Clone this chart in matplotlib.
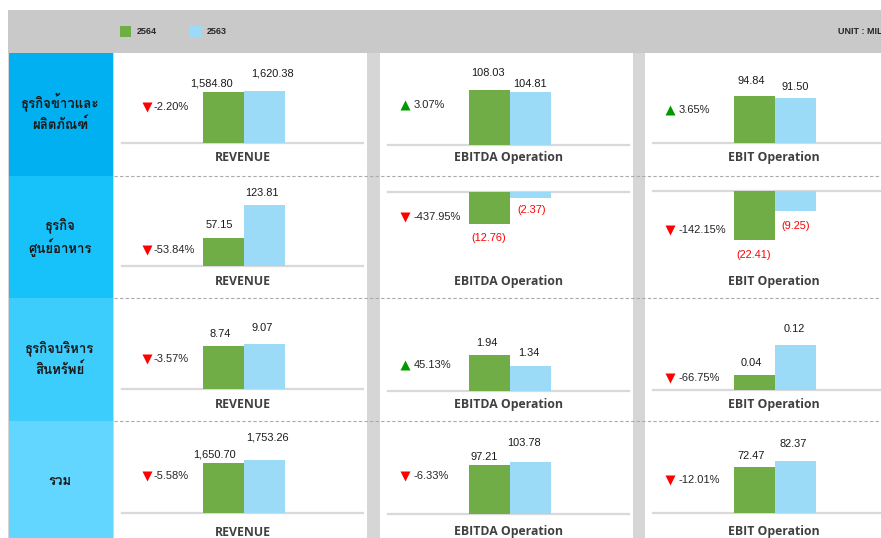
import matplotlib
matplotlib.use("Agg")
import matplotlib.pyplot as plt
import matplotlib.font_manager as fm
from matplotlib.ft2font import FT2Font
from matplotlib.patches import Rectangle

# ---------------- data ----------------
segments = ["ธุรกิจข้าวและ\nผลิตภัณฑ์", "ธุรกิจ\nศูนย์อาหาร", "ธุรกิจบริหาร\nสินทรัพย์", "รวม"]
metrics = ["REVENUE", "EBITDA Operation", "EBIT Operation"]
series_labels = ["2564", "2563"]
values_2564 = [[1584.80, 108.03, 94.84],
               [57.15, -12.76, -22.41],
               [8.74, 1.94, 0.04],
               [1650.70, 97.21, 72.47]]
values_2563 = [[1620.38, 104.81, 91.50],
               [123.81, -2.37, -9.25],
               [9.07, 1.34, 0.12],
               [1753.26, 103.78, 82.37]]
pct_change = [[-2.20, 3.07, 3.65],
              [-53.84, -437.95, -142.15],
              [-3.57, 45.13, -66.75],
              [-5.58, -6.33, -12.01]]
unit_label = "UNIT : MILLION BAHT"

# ---------------- layout (pixels) ----------------
W, H = 881, 538
base_y = [[143.3, 145.0, 143.3],
          [265.7, 192.3, 190.7],
          [389.3, 391.0, 389.7],
          [512.7, 514.0, 512.7]]
y_span = [[2150, 138, 141],
          [142, 28, 32],
          [14.05, 3.76, 0.189],
          [2345, 139, 111.6]]
title_y = [157.5, 281.5, 404.5, 532.0]
pct_y = [[107.3, 105.0, 110.0],
         [250.0, 217.3, 230.0],
         [359.3, 365.0, 378.3],
         [476.0, 475.7, 480.0]]
lbl_dx = [[(-11, 8), (-1, 0), (-2.5, 0)],
          [(-4, -2), (0, 2), (0, 1)],
          [(-3, -1.5), (-2.5, -1.5), (-3, -0.5)],
          [(-8, 3), (-5, -6), (-3, -2)]]
lbl_dy = [[(8.7, 17), (17, 8), (15, 10.6)],
          [(12.7, 12), (14, 12), (15, 15)],
          [(11.4, 16), (12, 12.7), (11.7, 16.7)],
          [(9, 22.6), (7.7, 18.4), (11.3, 16.7)]]
panel_x = [(114, 367), (380, 633), (645, 881)]
ax_left = [122, 388, 653]
tri_x = [147, 405, 670]
pct_tx = [153.5, 413.3, 678.5]
row_edges = [53, 175.5, 298, 421, 538]
seg_colors = ["#00b0f0", "#17c2fb", "#3ccdfd", "#62d6fe"]
seg_line_y = [(101.7, 125.0), (225.0, 247.7), (347.7, 370.0), (481.7,)]
c_green = "#70ad47"
c_blue = "#9bdbf8"

# ---------------- fonts ----------------
thai_candidates = []
for fe in fm.fontManager.ttflist:
    try:
        f = FT2Font(fe.fname)
        if f.get_char_index(0x0E18) and f.get_char_index(0x0E34):
            thai_candidates.append(fe)
    except Exception:
        pass

def pick_thai():
    if not thai_candidates:
        return None
    def score(fe):
        s = 0
        w = fe.weight if isinstance(fe.weight, int) else 400
        if w >= 600:
            s += 10
        if fe.style == "normal":
            s += 5
        n = fe.name.lower()
        if "sans" in n or "loma" in n or "garuda" in n or "tahoma" in n:
            s += 3
        return s
    best = max(thai_candidates, key=score)
    return fm.FontProperties(fname=best.fname, size=9.5)

thai_fp = pick_thai()

val_font = dict(family=["Liberation Sans", "DejaVu Sans"], size=7.9)
pct_font = dict(family=["Liberation Sans", "DejaVu Sans"], size=8.0)
title_font = dict(family=["Open Sans", "DejaVu Sans"], size=8.8, weight="bold")

fig = plt.figure(figsize=(W / 100, H / 100), dpi=100)
bg = fig.add_axes([0, 0, 1, 1])
bg.set_xlim(0, W)
bg.set_ylim(H, 0)
bg.axis("off")

# header
bg.add_patch(Rectangle((8, 10), W - 8, 43, color="#c9c9c9", lw=0))
# panels and gaps
bg.add_patch(Rectangle((8, 53), W - 8, H - 53, color="#d6d6d6", lw=0))
for (x0, x1) in panel_x:
    bg.add_patch(Rectangle((x0, 53), x1 - x0, H - 53, color="white", lw=0))
# left segment cells
for i in range(4):
    y0, y1 = row_edges[i], row_edges[i + 1]
    bg.add_patch(Rectangle((9, y0), 104, y1 - y0, color=seg_colors[i], lw=0))
    lines = segments[i].split("\n")
    for ln, yy in zip(lines, seg_line_y[i]):
        if thai_fp is not None:
            bg.text(60, yy, ln, fontproperties=thai_fp, ha="center", va="center",
                    color="#1a1a1a")
        else:
            bg.text(60, yy, ln, ha="center", va="center", fontsize=9, color="#1a1a1a")
# dashed separators
for y in row_edges[1:4]:
    bg.plot([114, W], [y, y], color="#ababab", lw=0.8, ls=(0, (3, 2)))

# legend
bg.add_patch(Rectangle((120, 26), 11, 11, color=c_green, lw=0))
bg.add_patch(Rectangle((190, 26), 11, 11, color=c_blue, lw=0))
leg_font = dict(family=["Liberation Sans Narrow", "Liberation Sans"], size=6.5,
                weight="bold", color="#262626")
bg.text(137, 31.5, series_labels[0], ha="left", va="center", **leg_font)
bg.text(207, 31.5, series_labels[1], ha="left", va="center", **leg_font)
bg.text(838, 31.5, unit_label, ha="left", va="center", **leg_font)


def fmt(v):
    if v < 0:
        return "({:,.2f})".format(-v)
    return "{:,.2f}".format(v)

AX_W = 241
UNIT = 41.0
for r in range(4):
    for c in range(3):
        g = values_2564[r][c]
        b = values_2563[r][c]
        neg = (g < 0) or (b < 0)
        by = base_y[r][c]
        x0 = ax_left[c]
        top = by if neg else by - 70
        ax = fig.add_axes([x0 / W, 1 - (top + 70) / H, AX_W / W, 70 / H])
        ax.patch.set_visible(False)
        ax.axis("off")
        ax.set_xlim(-101 / UNIT, (AX_W - 101) / UNIT)
        if neg:
            ax.set_ylim(-y_span[r][c], 0)
        else:
            ax.set_ylim(0, y_span[r][c])
        ax.bar([0, 1], [g, b], width=1.0, color=[c_green, c_blue], zorder=2)
        ax.axhline(0, color="#d9d9d9", lw=1.6, zorder=1, clip_on=False)
        for k, v in enumerate([g, b]):
            dx = lbl_dx[r][c][k]
            dy = lbl_dy[r][c][k]
            if v < 0:
                dy = -dy
            ax.annotate(fmt(v), xy=(k, v), xytext=(dx, dy), textcoords="offset pixels",
                        ha="center", va="center",
                        color="#ff0000" if v < 0 else "#1a1a1a",
                        annotation_clip=False, **val_font)
        # title
        bg.text(x0 + AX_W / 2, title_y[r], metrics[c], ha="center", va="center",
                color="#404040", **title_font)
        # pct
        p = pct_change[r][c]
        py = pct_y[r][c]
        if p < 0:
            bg.plot([tri_x[c]], [py], marker="v", ms=7.0, color="#ff0000", mec="none")
        else:
            bg.plot([tri_x[c]], [py], marker="^", ms=7.0, color="#009a00", mec="none")
        bg.text(pct_tx[c], py, "{:.2f}%".format(p), ha="left", va="center",
                color="#262626", **pct_font)

fig.savefig("out.png", dpi=100)
